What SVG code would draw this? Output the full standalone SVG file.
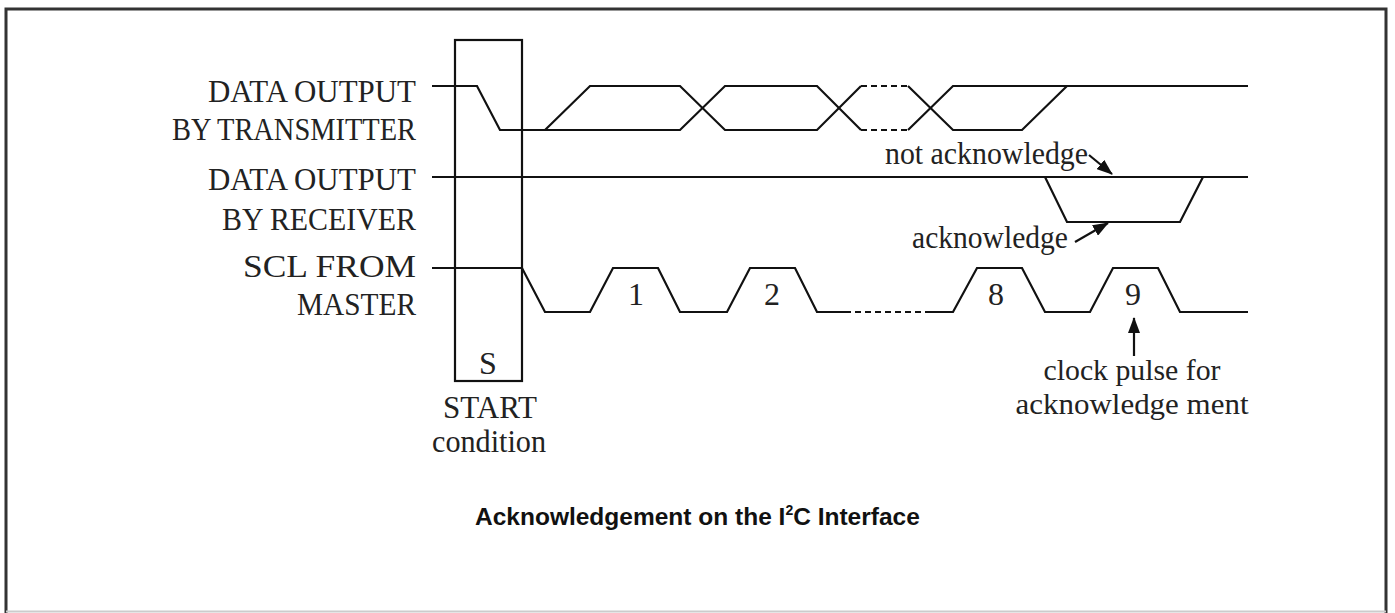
<svg xmlns="http://www.w3.org/2000/svg" width="1395" height="613" viewBox="0 0 1395 613">
<style>
.lbl{font-family:"Liberation Serif","Times New Roman",serif;font-size:32px;fill:#222}
.sm{font-size:29px}
.wave{fill:none;stroke:#111;stroke-width:2.2;stroke-linejoin:miter}
.dash{fill:none;stroke:#111;stroke-width:2.2;stroke-dasharray:6 4}
.arr{fill:none;stroke:#111;stroke-width:2.2}
.title{font-family:"Liberation Sans",Arial,sans-serif;font-weight:bold;font-size:24.5px;fill:#111}
</style>
<defs>
<marker id="ah" markerWidth="16" markerHeight="12" refX="15" refY="6" orient="auto" markerUnits="userSpaceOnUse">
<path d="M0,0 L16,6 L0,12 Z" fill="#111"/>
</marker>
</defs>
<rect x="0" y="0" width="1395" height="613" fill="#fff"/>
<path d="M6,613 L6,9 L1386,9 L1386,613" fill="none" stroke="#333" stroke-width="3"/>
<line x1="6" y1="611.5" x2="1386" y2="611.5" stroke="#ccc" stroke-width="2"/>

<g id="labels">
<g id="lbl-tx"><text class="lbl" x="416" y="102" text-anchor="end" textLength="208" lengthAdjust="spacingAndGlyphs">DATA OUTPUT</text>
<text class="lbl" x="416" y="140" text-anchor="end" textLength="244" lengthAdjust="spacingAndGlyphs">BY TRANSMITTER</text></g>
<g id="lbl-rx"><text class="lbl" x="416" y="190" text-anchor="end" textLength="208" lengthAdjust="spacingAndGlyphs">DATA OUTPUT</text>
<text class="lbl" x="416" y="230" text-anchor="end" textLength="194" lengthAdjust="spacingAndGlyphs">BY RECEIVER</text></g>
<g id="lbl-scl"><text class="lbl" x="416" y="277" text-anchor="end" textLength="173" lengthAdjust="spacingAndGlyphs">SCL FROM</text>
<text class="lbl" x="416" y="315" text-anchor="end" textLength="119" lengthAdjust="spacingAndGlyphs">MASTER</text></g>
</g>

<g id="start-box">
<rect x="455" y="40" width="67" height="341" fill="none" stroke="#111" stroke-width="2.2"/>
<text class="lbl" x="488" y="374" text-anchor="middle">S</text>
</g>
<g id="start-label">
<text class="lbl" x="490" y="418" text-anchor="middle" textLength="94" lengthAdjust="spacingAndGlyphs">START</text>
<text class="lbl" x="489" y="452" text-anchor="middle" textLength="114" lengthAdjust="spacingAndGlyphs">condition</text>
</g>

<g id="tx-wave">
<path class="wave" d="M432,86 L477,86 L500,130 L545,130"/>
<path class="wave" d="M545,130 L590,86 L680,86 L725,130 L817,130 L861,86"/>
<path class="wave" d="M545,130 L680,130 L725,86 L817,86 L861,130"/>
<path class="dash" d="M861,86 L908,86 M861,130 L908,130"/>
<path class="wave" d="M908,86 L953,130 L1022,130 L1067,86"/>
<path class="wave" d="M908,130 L953,86 L1248,86"/>
</g>

<g id="rx-wave">
<path class="wave" d="M432,177 L1248,177"/>
<path class="wave" d="M1045,177 L1067,222 L1180,222 L1203,177"/>
</g>

<g id="scl-wave">
<path class="wave" d="M432,268 L522,268 L545,312 L590,312 L613,268 L658,268 L680,312 L727,312 L750,268 L795,268 L817,312 L845,312"/>
<path class="dash" d="M845,312 L930,312"/>
<path class="wave" d="M930,312 L953,312 L977,268 L1022,268 L1045,312 L1090,312 L1113,268 L1158,268 L1180,312 L1248,312"/>
<text class="lbl" x="636" y="305" text-anchor="middle">1</text>
<text class="lbl" x="772" y="305" text-anchor="middle">2</text>
<text class="lbl" x="996" y="305" text-anchor="middle">8</text>
<text class="lbl" x="1133" y="305" text-anchor="middle">9</text>
</g>

<g id="nack-label"><text class="lbl" x="885" y="164" textLength="203" lengthAdjust="spacingAndGlyphs">not acknowledge</text></g>
<g id="ack-label"><text class="lbl" x="912" y="248" textLength="156" lengthAdjust="spacingAndGlyphs">acknowledge</text></g>
<g id="clock-label">
<text class="lbl sm" x="1132" y="380" text-anchor="middle" textLength="177" lengthAdjust="spacingAndGlyphs">clock pulse for</text>
<text class="lbl sm" x="1132" y="414" text-anchor="middle" textLength="233" lengthAdjust="spacingAndGlyphs">acknowledge ment</text>
</g>

<g id="connectors">
<line class="arr" x1="1089" y1="155" x2="1112" y2="174" marker-end="url(#ah)"/>
<line class="arr" x1="1075" y1="242" x2="1108" y2="223" marker-end="url(#ah)"/>
<line class="arr" x1="1134" y1="356" x2="1134" y2="318" marker-end="url(#ah)"/>
</g>

<g id="title">
<text class="title" x="475" y="525">Acknowledgement on the I<tspan font-size="14" dy="-10">2</tspan><tspan dy="10">C Interface</tspan></text>
</g>
</svg>
